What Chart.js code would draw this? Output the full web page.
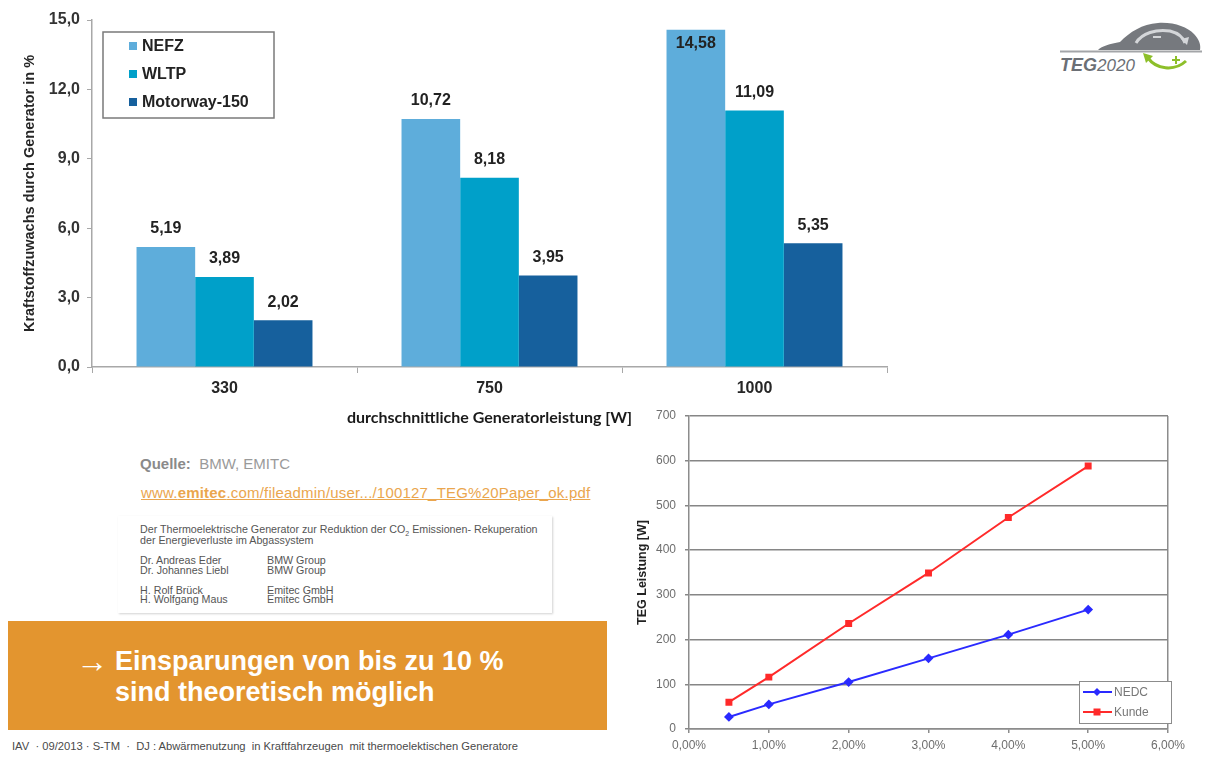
<!DOCTYPE html>
<html lang="de">
<head>
<meta charset="utf-8">
<title>Kraftstoffeinsparung durch thermoelektrische Generatoren</title>
<script src="https://cdn.jsdelivr.net/npm/chart.js@4.4.1/dist/chart.umd.min.js"></script>
<style>
  html, body { margin: 0; padding: 0; background: #fff; }
  body { width: 1215px; height: 758px; position: relative; overflow: hidden;
         font-family: "Liberation Sans", Arial, sans-serif; }
  canvas { position: absolute; display: block; }
  #bars { left: 0; top: 0; }
  #lines { left: 610px; top: 395px; }
  .abs { position: absolute; white-space: nowrap; }
  #quelle { left: 140px; top: 455px; font-size: 15px; color: #9a9a9a; }
  #quelle b { color: #8a8a8a; }
  #link { left: 141px; top: 484px; font-size: 15px; letter-spacing: 0.2px; color: #eaa64e; text-decoration: underline; }
  #paper { left: 118px; top: 516px; width: 434px; height: 97px; background: #fff;
           box-shadow: 1px 1px 2px rgba(0,0,0,0.18); }
  .pp { font-size: 10.7px; color: #555; line-height: 11px; }
  #banner { left: 8px; top: 621px; width: 599px; height: 109px; background: #e3952f; }
  .bt { font-size: 27px; font-weight: bold; color: #fff; }
  #footer { left: 12px; top: 740px; font-size: 11.2px; color: #4a4a4a; }
</style>
</head>
<body>
<canvas id="bars" width="900" height="430"></canvas>
<canvas id="lines" width="605" height="363"></canvas>

<!-- TEG2020 logo -->
<svg class="abs" style="left:1050px;top:16px" width="160" height="62" viewBox="0 0 160 62">
  <path d="M48 34 C52 30 60 28 70 26 C80 16 92 8 108 7 C124 6 137 11 144 18 C149 23 151 29 150 34 Z" fill="#76797e"/>
  <path d="M86 27 C92 17 106 13 120 15 C128 17 133 21 135 27" stroke="#d4d6d9" stroke-width="3" fill="none"/>
  <path d="M131 23 L137 29 L139 21 Z" fill="#d4d6d9"/>
  <line x1="103" y1="21" x2="111" y2="21" stroke="#d4d6d9" stroke-width="2"/>
  <line x1="10" y1="35.5" x2="152" y2="35.5" stroke="#a3a5a8" stroke-width="2"/>
  <text x="10" y="55" font-family="Liberation Sans, Arial, sans-serif" font-style="italic" font-weight="bold" font-size="18" fill="#6b6f75">TEG<tspan font-weight="normal" font-size="17">2020</tspan></text>
  <path d="M98 42 C106 53 124 56 136 45" stroke="#8dbf2a" stroke-width="3" fill="none"/>
  <path d="M93 37 L103 40 L96 47 Z" fill="#8dbf2a"/>
  <line x1="122" y1="44" x2="130" y2="44" stroke="#8dbf2a" stroke-width="2"/>
  <line x1="126" y1="40" x2="126" y2="48" stroke="#8dbf2a" stroke-width="2"/>
</svg>

<div id="quelle" class="abs"><b>Quelle:</b>&nbsp; BMW, EMITC</div>
<div id="link" class="abs">www.<b>emitec</b>.com/fileadmin/user.../100127_TEG%20Paper_ok.pdf</div>

<div id="paper" class="abs">
  <div class="abs pp" style="left:22px;top:8px">Der Thermoelektrische Generator zur Reduktion der CO<sub style="font-size:7px">2</sub> Emissionen- Rekuperation</div>
  <div class="abs pp" style="left:22px;top:19px">der Energieverluste im Abgassystem</div>
  <div class="abs pp" style="left:22px;top:39px">Dr. Andreas Eder</div>
  <div class="abs pp" style="left:149px;top:39px">BMW Group</div>
  <div class="abs pp" style="left:22px;top:49px">Dr. Johannes Liebl</div>
  <div class="abs pp" style="left:149px;top:49px">BMW Group</div>
  <div class="abs pp" style="left:22px;top:69px">H. Rolf Brück</div>
  <div class="abs pp" style="left:149px;top:69px">Emitec GmbH</div>
  <div class="abs pp" style="left:22px;top:78px">H. Wolfgang Maus</div>
  <div class="abs pp" style="left:149px;top:78px">Emitec GmbH</div>
</div>

<div id="banner" class="abs">
  <div class="abs bt" style="left:68px;top:22px;font-size:32px;font-weight:normal">&rarr;</div>
  <div class="abs bt" style="left:107px;top:25px">Einsparungen von bis zu 10 %</div>
  <div class="abs bt" style="left:107px;top:56px">sind theoretisch möglich</div>
</div>

<div id="footer" class="abs">IAV &nbsp;· 09/2013 · S-TM &nbsp;· &nbsp;DJ : Abwärmenutzung &nbsp;in Kraftfahrzeugen &nbsp;mit thermoelektischen Generatore</div>

<script>
// Mehrverbrauch-Reduktion je Fahrzyklus über der mittleren Generatorleistung
const categories = ['330', '750', '1000'];
const nefz = [5.19, 10.72, 14.58];
const wltp = [3.89, 8.18, 11.09];
const motorway = [2.02, 3.95, 5.35];
const cycleNames = ['NEFZ', 'WLTP', 'Motorway-150'];
const fuelTicks = [0, 3, 6, 9, 12, 15];

// TEG-Leistung über der Kraftstoffeinsparung
const savingPercent = [0.5, 1, 2, 3, 4, 5];
const nedcPower = [27, 55, 105, 158, 211, 267];
const kundePower = [60, 116, 236, 349, 473, 588];
const lineNames = ['NEDC', 'Kunde'];

const comma = (v, d) => v.toFixed(d).replace('.', ',');

// value labels above each bar (inside the bar when there is no room above)
const barValueLabels = {
  id: 'barValueLabels',
  afterDatasetsDraw(chart) {
    const ctx = chart.ctx;
    const top = chart.chartArea.top;
    ctx.save();
    ctx.font = 'bold 16px "Liberation Sans", Arial, sans-serif';
    ctx.fillStyle = '#222';
    ctx.textAlign = 'center';
    ctx.textBaseline = 'middle';
    chart.data.datasets.forEach((ds, di) => {
      chart.getDatasetMeta(di).data.forEach((bar, i) => {
        let y = bar.y - 18;
        if (y - 8 < top) y = bar.y + 14;
        ctx.fillText(comma(ds.data[i], 2), bar.x, y);
      });
    });
    ctx.restore();
  }
};

// boxed legend in the upper left of the plot
const barLegendBox = {
  id: 'barLegendBox',
  afterDraw(chart) {
    const ctx = chart.ctx;
    const x0 = 103, y0 = 32, w = 171, h = 86;
    ctx.save();
    ctx.strokeStyle = '#7a7a7a';
    ctx.lineWidth = 1.5;
    ctx.fillStyle = '#fff';
    ctx.fillRect(x0, y0, w, h);
    ctx.strokeRect(x0, y0, w, h);
    ctx.font = 'bold 16px "Liberation Sans", Arial, sans-serif';
    ctx.textBaseline = 'middle';
    chart.data.datasets.forEach((ds, i) => {
      const cy = y0 + 14 + i * 28;
      ctx.fillStyle = ds.backgroundColor;
      ctx.fillRect(x0 + 26, cy - 4, 8, 8);
      ctx.fillStyle = '#222';
      ctx.fillText(ds.label, x0 + 39, cy + 1);
    });
    ctx.restore();
  }
};

new Chart(document.getElementById('bars'), {
  type: 'bar',
  data: {
    labels: categories,
    datasets: [
      { label: cycleNames[0], data: nefz, backgroundColor: '#5eaddb' },
      { label: cycleNames[1], data: wltp, backgroundColor: '#00a0c9' },
      { label: cycleNames[2], data: motorway, backgroundColor: '#16609d' }
    ]
  },
  options: {
    responsive: false,
    animation: false,
    devicePixelRatio: 1,
    layout: { padding: { top: 20, right: 13, left: 0, bottom: 0 } },
    datasets: { bar: { barPercentage: 1, categoryPercentage: 0.664 } },
    plugins: { legend: { display: false }, tooltip: { enabled: false } },
    scales: {
      x: {
        grid: { offset: true, drawOnChartArea: false, color: '#a8a8a8', tickLength: 6 },
        border: { color: '#a8a8a8', width: 1.5 },
        ticks: { color: '#262626', padding: 6,
                 font: { family: '"Liberation Sans", Arial, sans-serif', size: 16, weight: 'bold' } },
        title: { display: true, text: 'durchschnittliche Generatorleistung [W]', color: '#1a1a1a',
                 font: { family: 'Lato, "Liberation Sans", sans-serif', size: 16, weight: 'bold' },
                 padding: { top: 0, bottom: 3 } },
        afterFit: s => { s.height = 63; }
      },
      y: {
        min: 0, max: 15,
        afterBuildTicks: s => { s.ticks = fuelTicks.map(v => ({ value: v })); },
        grid: { drawOnChartArea: false, color: '#a8a8a8', tickLength: 5 },
        border: { color: '#a8a8a8', width: 1.5 },
        ticks: { color: '#333', padding: 7, callback: v => comma(v, 1),
                 font: { family: '"Liberation Sans", Arial, sans-serif', size: 16, weight: 'bold' } },
        title: { display: true, text: 'Kraftstoffzuwachs durch Generator in %', color: '#262626',
                 font: { family: '"Liberation Sans", Arial, sans-serif', size: 14.5, weight: 'bold' },
                 padding: { top: 21, bottom: 0 } },
        afterFit: s => { s.width = 92; }
      }
    }
  },
  plugins: [barValueLabels, barLegendBox]
});

// legend box in the lower right corner of the line plot
const lineLegendBox = {
  id: 'lineLegendBox',
  afterDraw(chart) {
    const ctx = chart.ctx;
    const x0 = 469, y0 = 286, w = 92, h = 42;
    ctx.save();
    ctx.fillStyle = '#fff';
    ctx.fillRect(x0, y0, w, h);
    ctx.strokeStyle = '#8c8c8c';
    ctx.lineWidth = 1;
    ctx.strokeRect(x0 + 0.5, y0 + 0.5, w, h);
    ctx.font = '12px "Liberation Sans", Arial, sans-serif';
    ctx.textBaseline = 'middle';
    chart.data.datasets.forEach((ds, i) => {
      const cy = y0 + 11 + i * 20;
      ctx.strokeStyle = ds.borderColor;
      ctx.lineWidth = 2;
      ctx.beginPath();
      ctx.moveTo(x0 + 4, cy);
      ctx.lineTo(x0 + 33, cy);
      ctx.stroke();
      ctx.fillStyle = ds.borderColor;
      const mx = x0 + 18;
      if (ds.pointStyle === 'rect') {
        ctx.fillRect(mx - 3.5, cy - 3.5, 7, 7);
      } else {
        ctx.beginPath();
        ctx.moveTo(mx, cy - 4); ctx.lineTo(mx + 4, cy); ctx.lineTo(mx, cy + 4); ctx.lineTo(mx - 4, cy);
        ctx.closePath(); ctx.fill();
      }
      ctx.fillStyle = '#777';
      ctx.fillText(ds.label, x0 + 35, cy + 1);
    });
    ctx.restore();
  }
};

new Chart(document.getElementById('lines'), {
  type: 'line',
  data: {
    datasets: [
      { label: lineNames[0], data: savingPercent.map((x, i) => ({ x, y: nedcPower[i] })),
        borderColor: '#2a2aff', backgroundColor: '#2a2aff', borderWidth: 2,
        pointStyle: 'rectRot', pointRadius: 3.5, tension: 0 },
      { label: lineNames[1], data: savingPercent.map((x, i) => ({ x, y: kundePower[i] })),
        borderColor: '#ff2a2a', backgroundColor: '#ff2a2a', borderWidth: 2,
        pointStyle: 'rect', pointRadius: 3.5, tension: 0 }
    ]
  },
  options: {
    responsive: false,
    animation: false,
    devicePixelRatio: 1,
    layout: { padding: { top: 21, right: 47, left: 0, bottom: 0 } },
    plugins: { legend: { display: false }, tooltip: { enabled: false } },
    scales: {
      x: {
        type: 'linear', min: 0, max: 6,
        ticks: { stepSize: 1, color: '#6e6e6e', padding: 5, callback: v => comma(v, 2) + '%',
                 font: { family: '"Liberation Sans", Arial, sans-serif', size: 12 } },
        grid: { color: c => (c.tick && c.tick.value === 6 ? '#8c8c8c' : 'rgba(0,0,0,0)'),
                tickColor: '#8c8c8c', tickLength: 4, lineWidth: 1.5 },
        border: { color: '#8c8c8c', width: 1.5 },
        afterFit: s => { s.height = 29; }
      },
      y: {
        min: 0, max: 700,
        ticks: { stepSize: 100, color: '#6e6e6e', padding: 9,
                 font: { family: '"Liberation Sans", Arial, sans-serif', size: 12 } },
        grid: { color: '#868686', lineWidth: 1.5, tickLength: 4 },
        border: { color: '#8c8c8c', width: 1.5 },
        title: { display: true, text: 'TEG Leistung [W]', color: '#222',
                 font: { family: '"Liberation Sans", Arial, sans-serif', size: 12.5, weight: 'bold' },
                 padding: { top: 25, bottom: 0 } },
        afterFit: s => { s.width = 79; }
      }
    }
  },
  plugins: [lineLegendBox]
});
</script>
</body>
</html>
